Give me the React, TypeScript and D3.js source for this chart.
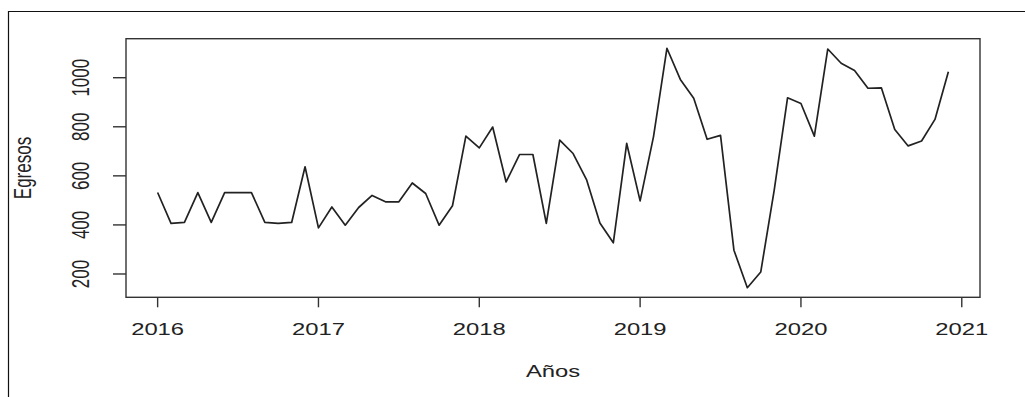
import React from "react";
import * as d3 from "d3";

// Monthly series, Jan 2016 – Dec 2020
const startYear = 2016;
const egresos2016 = [532, 406, 410, 532, 410, 532, 532, 532, 410, 406, 410, 637];
const egresos2017 = [388, 473, 399, 471, 520, 494, 494, 571, 528, 399, 478, 762];
const egresos2018 = [714, 799, 575, 687, 687, 406, 746, 691, 585, 408, 327, 732];
const egresos2019 = [498, 760, 1120, 993, 916, 749, 765, 297, 144, 208, 540, 918];
const egresos2020 = [895, 762, 1117, 1059, 1029, 957, 959, 789, 722, 742, 830, 1024];

const yTicks = [200, 400, 600, 800, 1000];
const xTicks = [2016, 2017, 2018, 2019, 2020, 2021];
const xLabel = "Años";
const yLabel = "Egresos";

const W = 1025;
const H = 397;
const box = { left: 126, right: 980, top: 38.7, bottom: 297.3 };
const SX = 1.4; // horizontal stretch of the text glyphs
const FONT = "'Liberation Sans', Arial, Helvetica, sans-serif";
const INK = "#222";

export default function App() {
  const values = [
    ...egresos2016,
    ...egresos2017,
    ...egresos2018,
    ...egresos2019,
    ...egresos2020,
  ];
  const data = values.map((v, i) => ({ t: startYear + i / 12, v }));

  const [t0, t1] = d3.extent(data, (d) => d.t) as [number, number];
  const [v0, v1] = d3.extent(data, (d) => d.v) as [number, number];
  const tPad = (t1 - t0) * 0.04;
  const vPad = (v1 - v0) * 0.04;

  const x = d3.scaleLinear().domain([t0 - tPad, t1 + tPad]).range([box.left, box.right]);
  const y = d3.scaleLinear().domain([v0 - vPad, v1 + vPad]).range([box.bottom, box.top]);

  const line = d3
    .line<{ t: number; v: number }>()
    .x((d) => x(d.t))
    .y((d) => y(d.v));

  return (
    <div style={{ position: "absolute", left: 0, top: 0 }}>
      <svg width={W} height={H} style={{ display: "block", background: "#fff" }}>
        {/* outer frame */}
        <path d={`M8.5,${H} L8.5,11.5 L${W},11.5`} fill="none" stroke="#111" strokeWidth={1.2} />

        {/* plot box */}
        <rect
          x={box.left}
          y={box.top}
          width={box.right - box.left}
          height={box.bottom - box.top}
          fill="none"
          stroke="#333"
          strokeWidth={1.4}
        />

        {/* series */}
        <path d={line(data) || ""} fill="none" stroke={INK} strokeWidth={1.7} strokeLinejoin="round" />

        {/* y axis */}
        {yTicks.map((t) => (
          <g key={`y${t}`}>
            <line x1={box.left - 13} x2={box.left} y1={y(t)} y2={y(t)} stroke="#333" strokeWidth={1.4} />
            <g transform={`translate(89,${y(t)}) scale(${SX},1) rotate(-90)`}>
              <text textAnchor="middle" fontFamily={FONT} fontSize={17} fill={INK}>
                {t}
              </text>
            </g>
          </g>
        ))}

        {/* x axis */}
        {xTicks.map((t) => (
          <g key={`x${t}`}>
            <line x1={x(t)} x2={x(t)} y1={box.bottom} y2={box.bottom + 10} stroke="#333" strokeWidth={1.4} />
            <g transform={`translate(${x(t)},335) scale(${SX},1)`}>
              <text textAnchor="middle" fontFamily={FONT} fontSize={17} fill={INK}>
                {t}
              </text>
            </g>
          </g>
        ))}

        {/* axis titles */}
        <g transform={`translate(${(box.left + box.right) / 2},377) scale(${SX},1)`}>
          <text textAnchor="middle" fontFamily={FONT} fontSize={17} fill={INK}>
            {xLabel}
          </text>
        </g>
        <g transform={`translate(31,${(box.top + box.bottom) / 2}) scale(${SX},1) rotate(-90)`}>
          <text textAnchor="middle" fontFamily={FONT} fontSize={17} fill={INK}>
            {yLabel}
          </text>
        </g>
      </svg>
    </div>
  );
}
